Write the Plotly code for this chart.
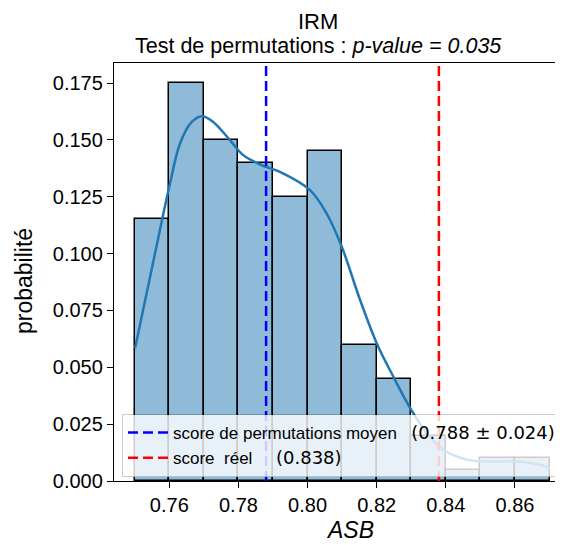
import plotly.graph_objects as go

# ---- data ----
bin_edges = [0.750, 0.760, 0.770, 0.780, 0.790, 0.800, 0.810, 0.820, 0.830, 0.840, 0.850, 0.860, 0.870]
probabilities = [0.115, 0.175, 0.150, 0.140, 0.125, 0.145, 0.060, 0.045, 0.020, 0.005, 0.010, 0.010]

kde_x = [0.7501, 0.7583, 0.7602, 0.7631, 0.7665, 0.7694, 0.7727, 0.7776, 0.7814, 0.7867,
         0.7920, 0.8007, 0.8055, 0.8099, 0.8152, 0.8200, 0.8248, 0.8301, 0.8345, 0.8393,
         0.8460, 0.8518, 0.8605, 0.8672, 0.8701]
kde_y = [0.0584, 0.1177, 0.1308, 0.1484, 0.1579, 0.1604, 0.1579, 0.1498, 0.1433, 0.1389,
         0.1359, 0.1279, 0.1177, 0.1030, 0.0796, 0.0606, 0.0459, 0.0310, 0.0211, 0.0137,
         0.0094, 0.0086, 0.0086, 0.0072, 0.0057]

perm_mean = 0.788
perm_std = 0.024
real_score = 0.838
p_value = 0.035

x_ticks = [0.76, 0.78, 0.80, 0.82, 0.84, 0.86]
y_ticks = [0.000, 0.025, 0.050, 0.075, 0.100, 0.125, 0.150, 0.175]

x_range = [0.744, 0.8739]
y_range = [0, 0.1838]

FONT = "Liberation Sans, Arial, sans-serif"
NUMFONT = "DejaVu Sans"

centers = [(a + b) / 2 for a, b in zip(bin_edges[:-1], bin_edges[1:])]
widths = [b - a for a, b in zip(bin_edges[:-1], bin_edges[1:])]

fig = go.Figure()
fig.add_trace(go.Bar(
    x=centers, y=probabilities, width=widths,
    marker=dict(color="rgb(143,187,217)", line=dict(color="black", width=1.5)),
    showlegend=False, hoverinfo="skip",
))
fig.add_trace(go.Scatter(
    x=kde_x, y=kde_y, mode="lines", line=dict(color="#1f77b4", width=2.5, shape="spline"),
    showlegend=False, hoverinfo="skip",
))
nb = "\u00a0"
fig.add_trace(go.Scatter(
    x=[perm_mean, perm_mean], y=y_range, mode="lines",
    line=dict(color="blue", width=2.5, dash="10px,5px"),
    name=(f"score de permutations moyen{nb*3}"
          f"<span style='font-family:{NUMFONT};font-size:18px'>({perm_mean:.3f} ± {perm_std:.3f})</span>"),
))
fig.add_trace(go.Scatter(
    x=[real_score, real_score], y=y_range, mode="lines",
    line=dict(color="red", width=2.5, dash="10px,5px"),
    name=(f"score{nb*2}réel{nb*5}"
          f"<span style='font-family:{NUMFONT};font-size:18px'>({real_score:.3f})</span>"),
))

# page body has an 8px margin: figure is drawn 8px right/down of the window origin
OFF = 8
W, H = 563 - OFF, 545 - OFF
L, R, T, B = 114 - OFF, 0, 63 - OFF, 545 - 481
plot_h = H - T - B
plot_w = W - L - R

def px_x(p):
    return (p - OFF - L) / plot_w

def px_y(p):
    return (H - B - (p - OFF)) / plot_h

fig.update_layout(
    width=W, height=H,
    margin=dict(l=L, r=R, t=T, b=B, pad=0, autoexpand=False),
    plot_bgcolor="white", paper_bgcolor="white",
    font=dict(family=FONT, color="black"),
    bargap=0,
    legend=dict(
        x=px_x(122), y=px_y(414), xanchor="left", yanchor="top",
        bgcolor="rgba(255,255,255,0.8)", bordercolor="rgba(0,0,0,0.2)", borderwidth=1,
        font=dict(size=17, family=FONT), itemwidth=40,
    ),
    annotations=[
        dict(text="IRM", x=px_x(318), y=px_y(21), xref="paper", yref="paper",
             showarrow=False, xanchor="center", yanchor="middle", borderpad=0,
             font=dict(size=22)),
        dict(text=f"Test de permutations : <i>p-value = {p_value:.3f}</i>",
             x=px_x(318), y=px_y(46), xref="paper", yref="paper",
             showarrow=False, xanchor="center", yanchor="middle", borderpad=0,
             font=dict(size=21.5)),
        dict(text="<i>ASB</i>", x=px_x(350), y=px_y(530), xref="paper", yref="paper",
             showarrow=False, xanchor="center", yanchor="middle", font=dict(size=23)),
        dict(text="probabilité", x=px_x(24), y=px_y(281), xref="paper", yref="paper",
             showarrow=False, xanchor="center", yanchor="middle", textangle=-90,
             font=dict(size=23)),
    ],
)
fig.update_xaxes(
    range=x_range, tickvals=x_ticks, ticktext=[f"{v:.2f}" for v in x_ticks],
    ticks="outside", ticklen=6, tickwidth=1.3, tickcolor="black",
    showline=True, linecolor="black", linewidth=1.3, mirror=True,
    showgrid=False, zeroline=False, tickfont=dict(size=20), automargin=False,
)
fig.update_yaxes(
    range=y_range, tickvals=y_ticks, ticktext=[f"{v:.3f}" for v in y_ticks],
    ticks="outside", ticklen=6, tickwidth=1.3, tickcolor="black",
    showline=True, linecolor="black", linewidth=1.3,
    showgrid=False, zeroline=False, tickfont=dict(size=20), automargin=False,
)

fig.write_html("out.html")
